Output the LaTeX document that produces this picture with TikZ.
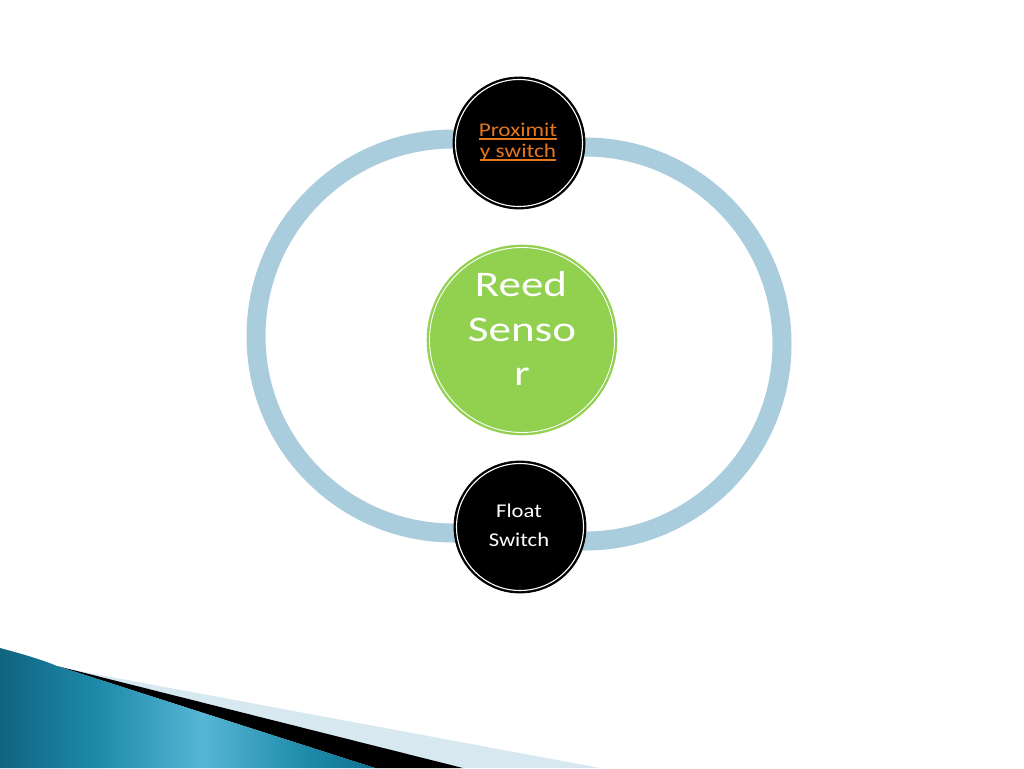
\documentclass[tikz,border=0pt]{standalone}
\usepackage{fontspec}
\setmainfont{Carlito}
\newfontfamily\proxfont[FakeStretch=1.19]{Carlito}
\newfontfamily\reedfont[FakeStretch=1.25]{Carlito}
\newfontfamily\floatfont[FakeStretch=1.16]{Carlito}
\definecolor{ringblue}{RGB}{170,205,221}
\definecolor{reedgreen}{RGB}{146,208,80}
\definecolor{proxorange}{RGB}{228,118,30}
\definecolor{wedgeblue}{RGB}{215,232,241}
\definecolor{tealdark}{RGB}{16,100,128}
\definecolor{tealmid}{RGB}{30,138,170}
\definecolor{tealbright}{RGB}{86,182,212}
\definecolor{tealdarkb}{RGB}{14,112,142}
\pgfdeclarehorizontalshading{tealsh}{100bp}{color(0bp)=(tealdark); color(25bp)=(tealdark); color(38bp)=(tealmid); color(52bp)=(tealbright); color(66bp)=(tealmid); color(75bp)=(tealdarkb); color(100bp)=(tealdarkb)}
\tikzset{
  ring/.style={draw=ringblue,line width=19pt},
  darknode/.style={circle,fill=black,draw=black,line width=0.8pt,minimum size=132pt,inner sep=0pt},
  greennode/.style={circle,fill=reedgreen,draw=reedgreen,line width=0.6pt,minimum size=190pt,inner sep=0pt},
  innerline/.style={draw=white,line width=1.1pt},
  proxtext/.style={inner sep=0pt,text=proxorange,font=\proxfont\fontsize{19.5}{22}\selectfont},
  reedtext/.style={inner sep=0pt,text=white,font=\reedfont\fontsize{36}{44}\selectfont},
  floattext/.style={inner sep=0pt,text=white,font=\floatfont\fontsize{19.5}{24}\selectfont},
  underl/.style={draw=proxorange,line width=1.3pt}
}
\begin{document}
\begin{tikzpicture}[x=1pt,y=-1pt]
\useasboundingbox (0,0) rectangle (1024,768);
\fill[white] (0,0) rectangle (1024,768);
% bottom-left decoration
\fill[wedgeblue] (68,669) -- (600,768) -- (463,768) -- cycle;
\fill[black] (57,666) -- (463,768) -- (375,768) -- cycle;
\shade[shading=tealsh,shading angle=0] (0,648) .. controls (30,656) and (45,661) .. (57,666) -- (375,768) -- (0,768) -- cycle;
% ring
\draw[ring] (519,139) -- (453,139) arc[start angle=90,end angle=270,radius=197pt] -- (520,533);
\draw[ring] (519,147) -- (585,147) arc[start angle=90,end angle=-90,radius=197pt] -- (520,541);
% nodes
\node[darknode] (prox) at (519,143) {};
\draw[innerline] (prox.center) circle[radius=63.5pt];
\node[darknode] (float) at (520,527) {};
\draw[innerline] (float.center) circle[radius=63.5pt];
\node[greennode] (reed) at (522,340) {};
\draw[innerline,line width=0.9pt] (reed.center) circle[radius=92.5pt];
% texts
\node[proxtext,anchor=base] (prox1) at (518,136) {Proximit};
\node[proxtext,anchor=base] (prox2) at (518,157) {y switch};
\draw[underl] ([yshift=-3pt]prox1.base west) -- ([yshift=-3pt]prox1.base east);
\draw[underl] ([yshift=-3pt]prox2.base west) -- ([yshift=-3pt]prox2.base east);
\node[reedtext,anchor=base] (reed1) at (521,296) {Reed};
\node[reedtext,anchor=base] (reed2) at (522,341) {Senso};
\node[reedtext,anchor=base] (reed3) at (522,385) {r};
\node[floattext,anchor=base] (float1) at (519,517) {Float};
\node[floattext,anchor=base] (float2) at (519,546) {Switch};
\end{tikzpicture}
\end{document}
